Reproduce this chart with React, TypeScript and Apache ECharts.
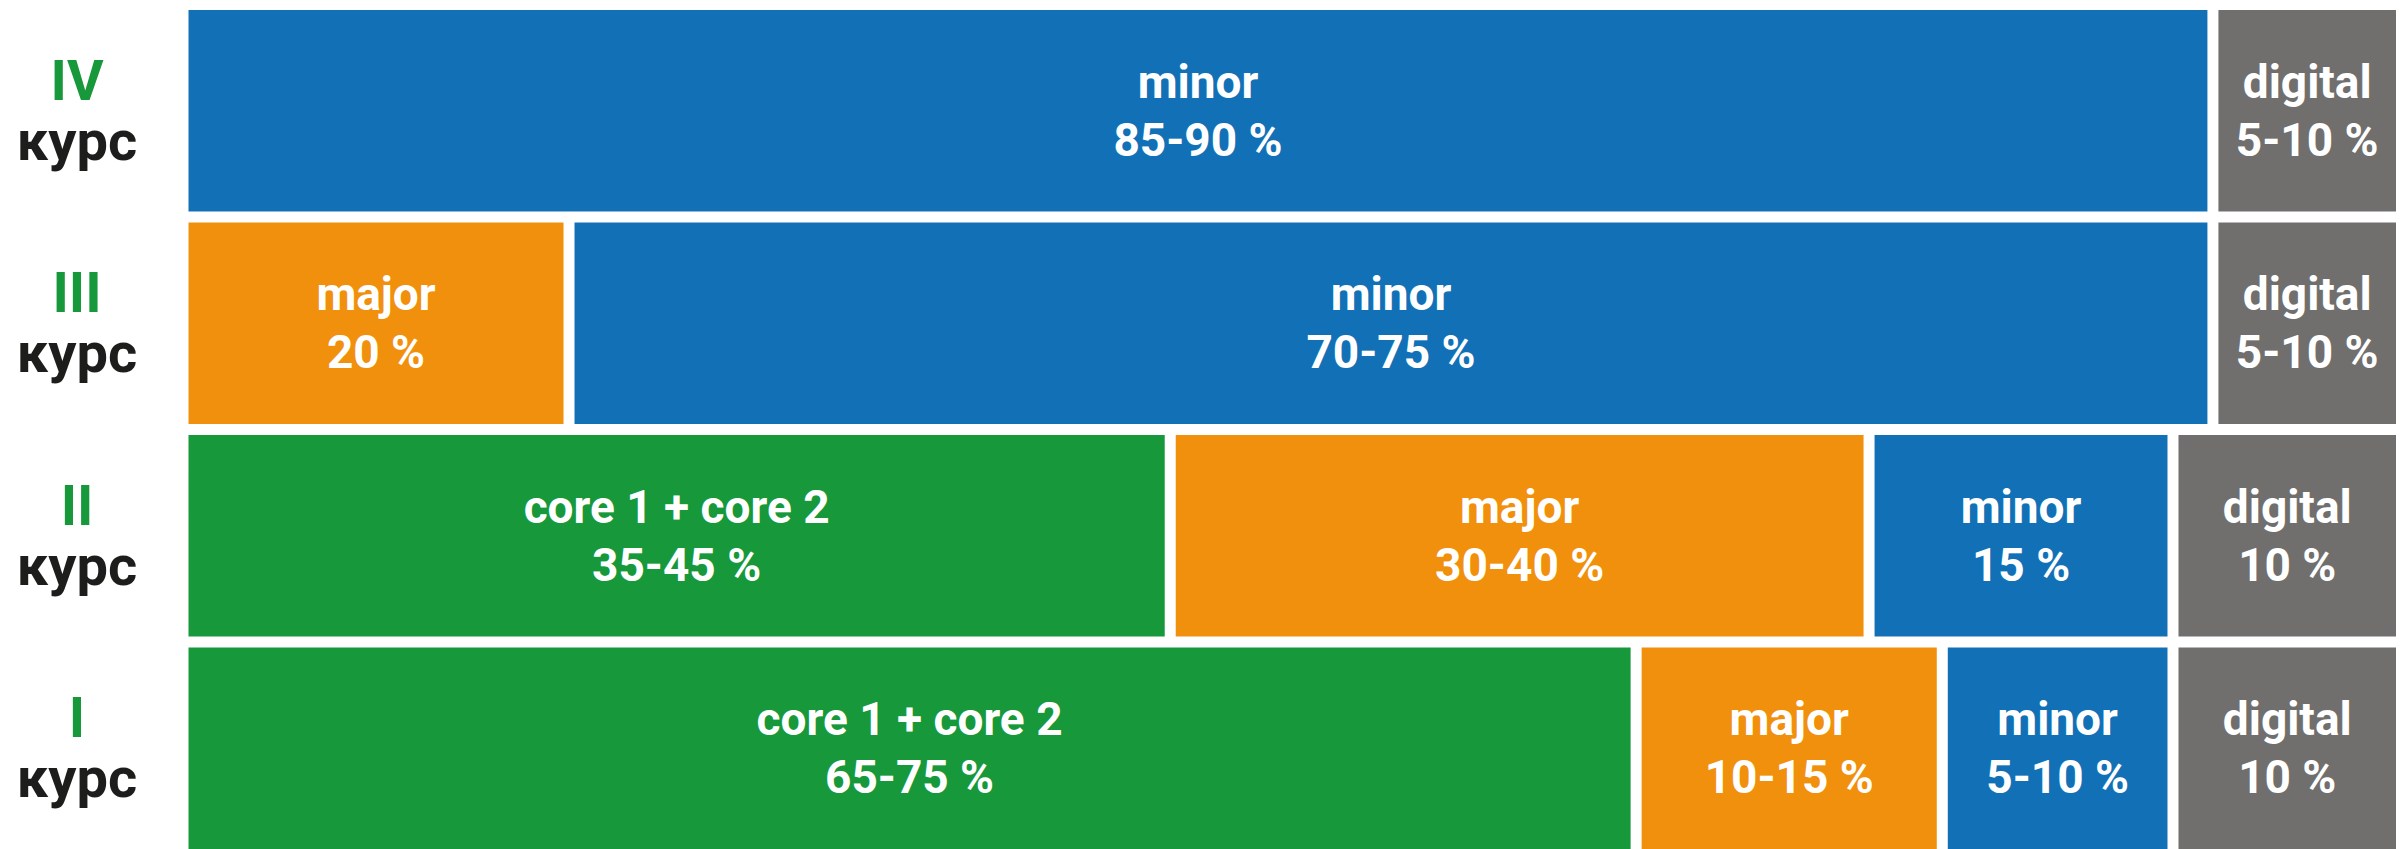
import React, { useEffect, useRef } from "react";
import * as echarts from "echarts";

// Rows, bottom to top
const romanLabels = ["I", "II", "III", "IV"];
const courseWord = "курс";

// Block widths (share of the row)
const coreValues = [65.5, 44.5, null, null];
const majorValues = [13.8, 31.5, 17.4, null];
const minorValues = [10.4, 13.7, 74.1, 91.5];
const digitalValues = [10.3, 10.3, 8.5, 8.5];

// Range texts shown in the blocks
const coreRanges = ["65-75 %", "35-45 %", "", ""];
const majorRanges = ["10-15 %", "30-40 %", "20 %", ""];
const minorRanges = ["5-10 %", "15 %", "70-75 %", "85-90 %"];
const digitalRanges = ["10 %", "10 %", "5-10 %", "5-10 %"];

const seriesNames = ["core 1 + core 2", "major", "minor", "digital"];
const seriesColors = ["#17983b", "#f1900c", "#1271b6", "#706f6e"];

export default function App() {
  const ref = useRef<HTMLDivElement>(null);

  useEffect(() => {
    if (!ref.current) return;
    const chart = echarts.init(ref.current, undefined, { renderer: "svg" });
    const values = [coreValues, majorValues, minorValues, digitalValues];
    const ranges = [coreRanges, majorRanges, minorRanges, digitalRanges];

    const series = values.map((vals, si) => ({
      name: seriesNames[si],
      type: "bar",
      stack: "total",
      barCategoryGap: 0,
      data: vals.map((v) => (v == null ? "-" : v)),
      itemStyle: {
        color: seriesColors[si],
        borderColor: "#ffffff",
        borderWidth: 5.5,
      },
      label: {
        show: true,
        position: "inside",
        formatter: (p: any) => `${seriesNames[si]}\n${ranges[si][p.dataIndex]}`,
        color: "#ffffff",
        fontFamily: "Roboto, 'Noto Sans', sans-serif",
        fontWeight: "bold",
        fontSize: 46,
        lineHeight: 58,
        align: "center",
      },
      emphasis: { disabled: true },
    }));

    chart.setOption({
      animation: false,
      grid: { left: 183, width: 2218.5, top: 4.5, height: 850 },
      xAxis: {
        type: "value",
        min: 0,
        max: 100,
        show: false,
      },
      yAxis: {
        type: "category",
        data: romanLabels,
        axisLine: { show: false },
        axisTick: { show: false },
        splitLine: { show: false },
        axisLabel: {
          margin: 106,
          align: "center",
          formatter: (v: string) => `{r|${v}}\n{k|${courseWord}}`,
          rich: {
            r: {
              fontFamily: "Roboto, 'Noto Sans', sans-serif",
              fontWeight: "bold",
              fontSize: 56,
              lineHeight: 60,
              color: "#17983b",
              align: "center",
            },
            k: {
              fontFamily: "Roboto, 'Noto Sans', sans-serif",
              fontWeight: "bold",
              fontSize: 56,
              lineHeight: 60,
              color: "#1d1d1b",
              align: "center",
            },
          },
        },
      },
      series,
    });

    return () => chart.dispose();
  }, []);

  return (
    <div
      style={{
        position: "absolute",
        left: 0,
        top: 0,
        width: 2407,
        height: 849,
        overflow: "hidden",
      }}
    >
      <div ref={ref} style={{ width: 2407, height: 870 }} />
    </div>
  );
}
